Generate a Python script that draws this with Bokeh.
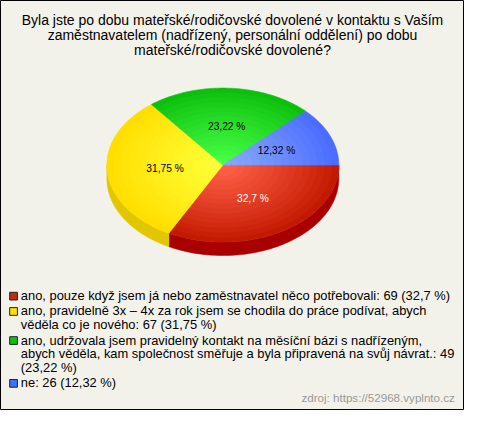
import numpy as np
from bokeh.plotting import figure
from bokeh.models import Range1d
from bokeh.embed import file_html
from bokeh.resources import INLINE
from bokeh.core.properties import value

# ---------------- data ----------------
title_lines = [
    "Byla jste po dobu mateřské/rodičovské dovolené v kontaktu s Vaším",
    "zaměstnavatelem (nadřízený, personální oddělení) po dobu",
    "mateřské/rodičovské dovolené?",
]
categories = [
    "ano, pouze když jsem já nebo zaměstnavatel něco potřebovali",
    "ano, pravidelně 3x – 4x za rok jsem se chodila do práce podívat, abych věděla co je nového",
    "ano, udržovala jsem pravidelný kontakt na měsíční bázi s nadřízeným, abych věděla, kam společnost směřuje a byla připravená na svůj návrat.",
    "ne",
]
counts = [69, 67, 49, 26]
percents = [32.7, 31.75, 23.22, 12.32]
source_text = "zdroj: https://52968.vyplnto.cz"

# ---------------- styles ----------------
FONT = value("Liberation Sans")
BG = "#f3f2ea"
edge_cols = ["#c21a00", "#ffde00", "#0dbf0d", "#4a6cff"]
center_cols = ["#ff6048", "#ffff38", "#46ff46", "#8aa8ff"]
side_cols = ["#a80000", "#e2c600", "#0a9a0a", "#3050c0"]
legend_cols = ["#c8280c", "#ffe000", "#10c010", "#4070ff"]
label_cols = ["white", "black", "black", "black"]
wrap_before = [[], ["věděla co"], ["abych věděla", "(23,22"], []]

cx, cy, rx, ry, depth = 230.0, 171.0, 120.0, 80.0, 14.0


def fmt(p):
    return f"{p:g}".replace(".", ",")


def hex2rgb(h):
    h = h.lstrip("#")
    return np.array([int(h[i:i + 2], 16) for i in (0, 2, 4)], dtype=float)


def mix(a, b, t):
    c = hex2rgb(a) * (1 - t) + hex2rgb(b) * t
    return "#%02x%02x%02x" % tuple(int(round(v)) for v in c)


p = figure(width=464, height=410, x_range=Range1d(0, 480), y_range=Range1d(426, 0),
           output_backend="svg", toolbar_location=None, min_border=0)
p.axis.visible = False
p.grid.visible = False
p.background_fill_color = BG
p.border_fill_color = BG
p.outline_line_color = "black"
p.outline_line_width = 1

# ---------------- pie ----------------
fr = np.array(percents) / 100.0
ends = np.cumsum(fr) * 2 * np.pi
starts = ends - fr * 2 * np.pi

# sides (front half only)
sx, sy, sc = [], [], []
for i, (a0, a1) in enumerate(zip(starts, ends)):
    lo, hi = max(a0, 0.0), min(a1, np.pi)
    if hi <= lo:
        continue
    t = np.linspace(lo, hi, 80)
    ux = cx + rx * np.cos(t)
    uy = cy + ry * np.sin(t)
    sx.append(np.concatenate([ux, ux[::-1]]))
    sy.append(np.concatenate([uy, (uy + depth)[::-1]]))
    sc.append(side_cols[i])
p.patches(sx, sy, fill_color=sc, line_color=sc, line_width=0.5)

# tops with radial gradient approximation
N = 16
px, py, pc = [], [], []
for k in range(N):
    s = 1.0 - 0.93 * k / (N - 1)
    tt = (k / (N - 1)) ** 0.9
    for i, (a0, a1) in enumerate(zip(starts, ends)):
        t = np.linspace(a0, a1, 90)
        xs = np.concatenate([[cx], cx + s * rx * np.cos(t)])
        ys = np.concatenate([[cy], cy + s * ry * np.sin(t)])
        px.append(xs)
        py.append(ys)
        pc.append(mix(edge_cols[i], center_cols[i], tt))
p.patches(px, py, fill_color=pc, line_color=pc, line_width=0.6)

# slice labels
mid = (starts + ends) / 2
lx = cx + 0.5 * rx * np.cos(mid)
ly = cy + 0.5 * ry * np.sin(mid)
p.text(lx, ly, text=[fmt(v) + " %" for v in percents], text_color=label_cols,
       text_font=FONT, text_font_size="10.2px", text_align="center", text_baseline="middle")

# ---------------- title ----------------
p.text([240] * len(title_lines), [20.7 + 15.5 * i for i in range(len(title_lines))],
       text=title_lines, text_font=FONT, text_font_size="14px", text_color="black",
       text_align="center", text_baseline="middle")

# ---------------- legend ----------------
tx, ty, tt_ = [], [], []
qx, qy = [], []
y = 306.7
for i, cat in enumerate(categories):
    full = f"{cat}: {counts[i]} ({fmt(percents[i])} %)"
    for b in wrap_before[i]:
        full = full.replace(" " + b, "\n" + b, 1)
    lines = full.split("\n")
    qx.append(13.5)
    qy.append(y + 0.5)
    for ln in lines:
        tx.append(21)
        ty.append(y)
        tt_.append(ln)
        y += 14.3
    y += 1.6
p.rect(qx, qy, width=8, height=8, fill_color=legend_cols, line_color="#222222", line_width=1)
p.text(tx, ty, text=tt_, text_font=FONT, text_font_size="12.9px", text_color="black",
       text_align="left", text_baseline="middle")

# source
p.text([470], [412.5], text=[source_text], text_font=FONT, text_font_size="11.6px",
       text_color="#999999", text_align="right", text_baseline="middle")

open("out.html", "w").write(file_html(p, INLINE))
